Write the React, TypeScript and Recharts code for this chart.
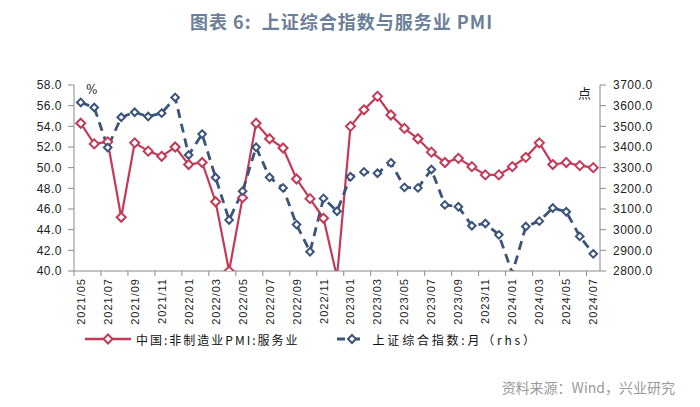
import React from "react";
import { LineChart, Line, XAxis, YAxis } from "recharts";

// month labels, 2021/05 .. 2024/07
const months = [
  "2021/05", "2021/06", "2021/07", "2021/08", "2021/09", "2021/10", "2021/11", "2021/12",
  "2022/01", "2022/02", "2022/03", "2022/04", "2022/05", "2022/06", "2022/07", "2022/08",
  "2022/09", "2022/10", "2022/11", "2022/12", "2023/01", "2023/02", "2023/03", "2023/04",
  "2023/05", "2023/06", "2023/07", "2023/08", "2023/09", "2023/10", "2023/11", "2023/12",
  "2024/01", "2024/02", "2024/03", "2024/04", "2024/05", "2024/06", "2024/07",
];

// 中国:非制造业PMI:服务业 (%)
const servicesPmi = [
  54.3, 52.3, 52.5, 45.2, 52.4, 51.6, 51.1, 52.0,
  50.3, 50.5, 46.7, 40.0, 47.1, 54.3, 52.8, 51.9,
  48.9, 47.0, 45.1, 39.4, 54.0, 55.6, 56.9, 55.1,
  53.8, 52.8, 51.5, 50.5, 50.9, 50.1, 49.3, 49.3,
  50.1, 51.0, 52.4, 50.3, 50.5, 50.2, 50.0,
];

// 上证综合指数:月 (points, rhs)
const shComposite = [
  3615.5, 3591.2, 3397.4, 3543.9, 3568.2, 3547.3, 3563.9, 3639.8,
  3361.4, 3462.3, 3252.2, 3047.1, 3186.4, 3398.6, 3253.2, 3202.1,
  3024.4, 2893.5, 3151.3, 3089.3, 3255.7, 3279.6, 3272.9, 3323.3,
  3204.6, 3202.1, 3291.0, 3119.9, 3110.5, 3018.8, 3029.7, 2974.9,
  2788.6, 3015.2, 3041.2, 3104.8, 3086.8, 2967.4, 2883.0,
];

const leftTicks = [40, 42, 44, 46, 48, 50, 52, 54, 56, 58];
const rightTicks = [2800, 2900, 3000, 3100, 3200, 3300, 3400, 3500, 3600, 3700];
const seriesNames = ["中国:非制造业PMI:服务业", "上证综合指数:月（rhs）"];

const RED = "#c43a56";
const BLUE = "#3b5479";
const AXIS = "#8a8a8a";
const LEFT = 74;
const RIGHT = 600;
const TOP = 85;
const BOTTOM = 271;
const XH = 60;

const data = months.map((m, i) => ({ idx: i, month: m, pmi: servicesPmi[i], sh: shComposite[i] }));
const xTicks = data.filter((d) => d.idx % 2 === 0).map((d) => d.idx);

function XTick(props: any) {
  const { x, payload } = props;
  const half = (RIGHT - LEFT) / months.length / 2;
  const ty = BOTTOM + 7;
  return (
    <g>
      <line x1={x - half} x2={x - half} y1={BOTTOM} y2={BOTTOM + 5} stroke={AXIS} />
      <text
        x={x}
        y={ty}
        transform={`rotate(-90 ${x} ${ty})`}
        textAnchor="end"
        dominantBaseline="central"
        fontSize={11}
        letterSpacing={1}
        fill="#222"
        fontFamily="'Liberation Sans', Arial, sans-serif"
      >
        {months[payload.value]}
      </text>
    </g>
  );
}

// hollow diamond marker, hidden when the value falls below the axis floor
function diamond(color: string, r: number, floor: number) {
  return (props: any) => {
    const { cx, cy, value, index } = props;
    if (value == null || value < floor) return <g key={"d" + index} />;
    return (
      <path
        key={"d" + index}
        d={`M${cx},${cy - r}L${cx + r},${cy}L${cx},${cy + r}L${cx - r},${cy}Z`}
        fill="#fff"
        stroke={color}
        strokeWidth={2}
      />
    );
  };
}

const tickStyle = { fontSize: 12, fill: "#222", letterSpacing: 0.5, fontFamily: "'Liberation Sans', Arial, sans-serif" };
const cjk = "'Noto Sans CJK SC', 'Noto Sans', sans-serif";

export default function App() {
  return (
    <div style={{ position: "absolute", left: 0, top: 0, width: 700, height: 407, background: "#fff", fontFamily: cjk }}>
      <div
        style={{
          position: "absolute",
          left: 190,
          top: 8,
          fontSize: 18,
          fontWeight: 700,
          letterSpacing: 1,
          color: "#6d7f98",
          lineHeight: "26px",
          whiteSpace: "pre",
        }}
      >
        图表 6:  上证综合指数与服务业 PMI
      </div>

      <LineChart width={700} height={407} data={data} margin={{ top: TOP, right: 0, bottom: 407 - BOTTOM - XH, left: 0 }}>
        <XAxis
          dataKey="idx"
          type="number"
          domain={[-0.5, months.length - 0.5]}
          ticks={xTicks}
          interval={0}
          height={XH}
          tick={<XTick />}
          tickLine={false}
          axisLine={{ stroke: AXIS }}
        />
        <YAxis
          yAxisId="left"
          width={LEFT}
          domain={[40, 58]}
          ticks={leftTicks}
          allowDataOverflow
          interval={0}
          tickFormatter={(v: number) => v.toFixed(1)}
          tickSize={6}
          tickMargin={6}
          tick={tickStyle}
          axisLine={{ stroke: AXIS }}
          tickLine={{ stroke: AXIS }}
        />
        <YAxis
          yAxisId="right"
          orientation="right"
          width={700 - RIGHT}
          domain={[2800, 3700]}
          ticks={rightTicks}
          allowDataOverflow
          interval={0}
          tickFormatter={(v: number) => v.toFixed(1)}
          tickSize={6}
          tickMargin={7}
          tick={tickStyle}
          axisLine={{ stroke: AXIS }}
          tickLine={{ stroke: AXIS }}
        />
        <Line
          yAxisId="left"
          dataKey="pmi"
          name={seriesNames[0]}
          stroke={RED}
          strokeWidth={2.2}
          dot={diamond(RED, 4.5, 40)}
          isAnimationActive={false}
        />
        <Line
          yAxisId="right"
          dataKey="sh"
          name={seriesNames[1]}
          stroke={BLUE}
          strokeWidth={2.8}
          strokeDasharray="9 6"
          dot={diamond(BLUE, 3.8, 2800)}
          isAnimationActive={false}
        />
      </LineChart>

      <span style={{ position: "absolute", left: 86, top: 83, fontSize: 12, color: "#222", fontFamily: "'DejaVu Serif', serif" }}>%</span>
      <span style={{ position: "absolute", left: 578, top: 83, fontSize: 13, color: "#222" }}>点</span>

      {/* legend */}
      <div style={{ position: "absolute", left: 84, top: 330, height: 18, display: "flex", alignItems: "center", fontSize: 12, letterSpacing: 2, color: "#111", whiteSpace: "nowrap" }}>
        <svg width={48} height={14} style={{ marginRight: 4 }}>
          <line x1={1} x2={47} y1={7} y2={7} stroke={RED} strokeWidth={2.5} />
          <path d="M24,2.5L28.5,7L24,11.5L19.5,7Z" fill="#fff" stroke={RED} strokeWidth={2} />
        </svg>
        <span>{seriesNames[0]}</span>
        <svg width={30} height={14} style={{ marginLeft: 37, marginRight: 6 }}>
          <line x1={0} x2={30} y1={7} y2={7} stroke={BLUE} strokeWidth={3} strokeDasharray="8 7" />
          <path d="M15,3L19,7L15,11L11,7Z" fill="#fff" stroke={BLUE} strokeWidth={2} />
        </svg>
        <span style={{ letterSpacing: 2.8 }}>{seriesNames[1]}</span>
      </div>

      <div style={{ position: "absolute", right: 25, top: 377, fontSize: 14, color: "#9a9a9a", whiteSpace: "nowrap" }}>
        资料来源：Wind，兴业研究
      </div>
    </div>
  );
}
